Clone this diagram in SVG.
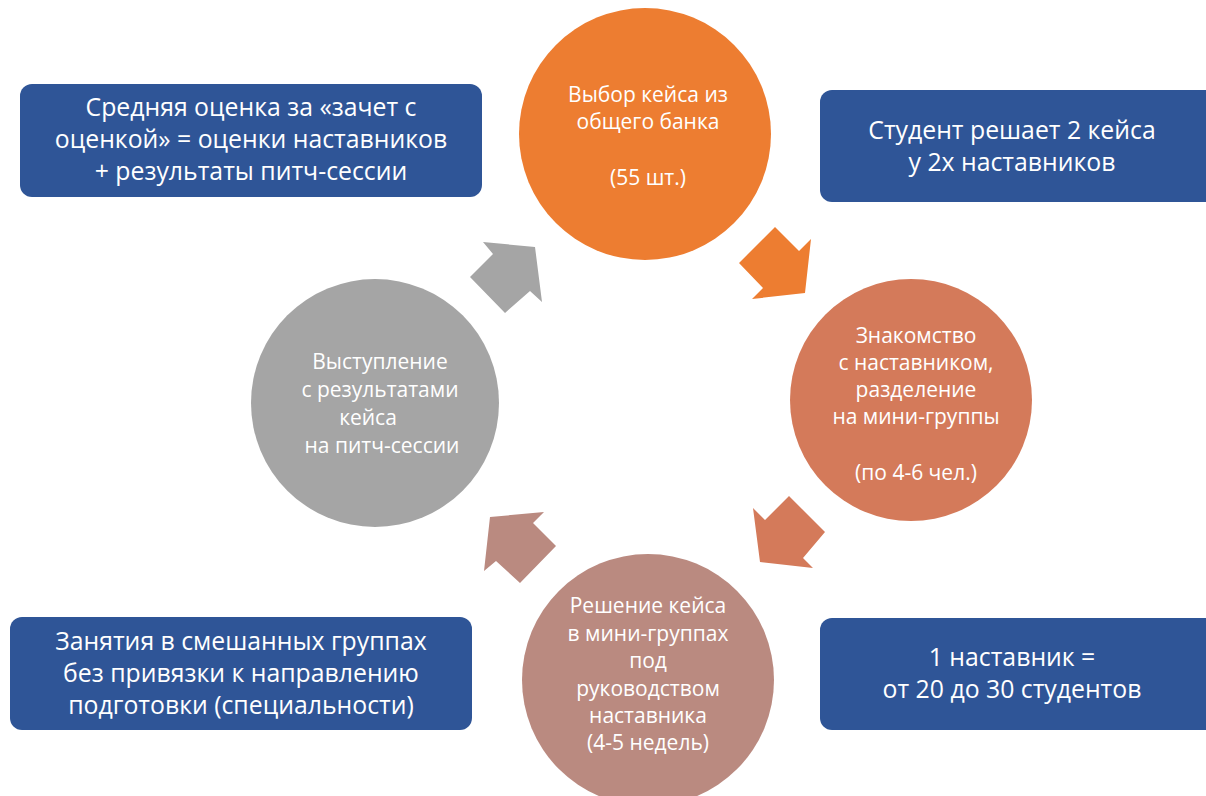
<svg xmlns="http://www.w3.org/2000/svg" width="1206" height="796" viewBox="0 0 1206 796">
<style>
.box{fill:#2F5597}
.bt{font-family:"Open Sans","Liberation Sans",sans-serif;font-size:24.8px;fill:#fff;text-anchor:middle}
.ct{font-family:"Open Sans","Liberation Sans",sans-serif;font-size:21px;fill:#fff;text-anchor:middle}
</style>
<rect width="1206" height="796" fill="#fff"/>
<g id="connectors">
<polygon points="739,263 775,227 799,251 811,239 805,293 752,299 763,288" fill="#ED7D31"/>
<polygon points="789,496 825,532 803,558 813,568 760,562 753,508 765,520" fill="#D47A5A"/>
<polygon points="490,517 544,512 533,523 556,546 520,583 496,561 484,571" fill="#BA8A80"/>
<polygon points="483,242 535,247 542,302 530,291 505,313 470,277 493,254" fill="#A5A5A5"/>
</g>
<g id="n-select">
<circle cx="645" cy="134" r="126" fill="#ED7D31"/>
<text class="ct" x="648" y="102">Выбор кейса из</text>
<text class="ct" x="648" y="129">общего банка</text>
<text class="ct" x="648" y="185">(55 шт.)</text>
</g>
<g id="n-meet">
<circle cx="911" cy="400" r="121" fill="#D47A5A"/>
<text class="ct" x="916" y="343">Знакомство</text>
<text class="ct" x="916" y="370">с наставником,</text>
<text class="ct" x="916" y="397">разделение</text>
<text class="ct" x="916" y="424">на мини-группы</text>
<text class="ct" x="916" y="480">(по 4-6 чел.)</text>
</g>
<g id="n-solve">
<circle cx="648" cy="680" r="126" fill="#BA8A80"/>
<text class="ct" x="648" y="613">Решение кейса</text>
<text class="ct" x="648" y="641">в мини-группах</text>
<text class="ct" x="648" y="668">под</text>
<text class="ct" x="648" y="696">руководством</text>
<text class="ct" x="648" y="723">наставника</text>
<text class="ct" x="648" y="750">(4-5 недель)</text>
</g>
<g id="n-pitch">
<circle cx="375" cy="403" r="124" fill="#A5A5A5"/>
<text class="ct" x="380" y="369">Выступление</text>
<text class="ct" x="380" y="397">с результатами</text>
<text class="ct" x="368" y="425">кейса</text>
<text class="ct" x="382" y="453">на питч-сессии</text>
</g>
<g id="b-grade">
<rect class="box" x="20" y="84" width="462" height="113" rx="12"/>
<text class="bt" x="251" y="116">Средняя оценка за «зачет с</text>
<text class="bt" x="251" y="148">оценкой» = оценки наставников</text>
<text class="bt" x="251" y="180">+ результаты питч-сессии</text>
</g>
<g id="b-student">
<rect class="box" x="820" y="90" width="400" height="112" rx="12"/>
<text class="bt" x="1012" y="139">Студент решает 2 кейса</text>
<text class="bt" x="1012" y="171">у 2х наставников</text>
</g>
<g id="b-groups">
<rect class="box" x="10" y="617" width="462" height="113" rx="12"/>
<text class="bt" x="241" y="650">Занятия в смешанных группах</text>
<text class="bt" x="241" y="682">без привязки к направлению</text>
<text class="bt" x="241" y="714">подготовки (специальности)</text>
</g>
<g id="b-mentor">
<rect class="box" x="820" y="618" width="400" height="112" rx="12"/>
<text class="bt" x="1012" y="666">1 наставник =</text>
<text class="bt" x="1012" y="698">от 20 до 30 студентов</text>
</g>
</svg>
